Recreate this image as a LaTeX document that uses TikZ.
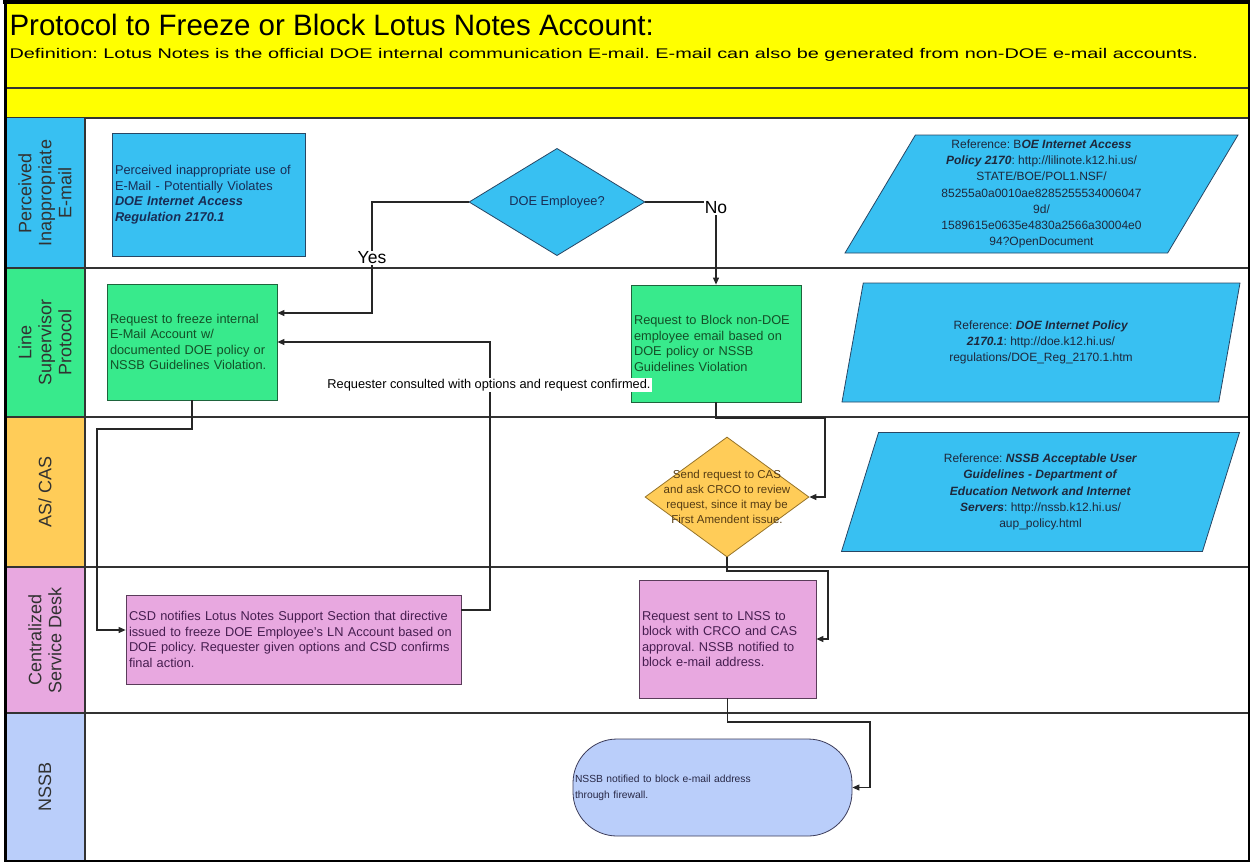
\documentclass[tikz,border=0pt]{standalone}
\usepackage{fontspec}
\setmainfont{Liberation Sans}
\newfontfamily\widesans{Liberation Sans}[FakeStretch=1.42]
\usetikzlibrary{shapes.geometric,arrows.meta}
\definecolor{hdryellow}{RGB}{255,255,0}
\definecolor{laneblue}{RGB}{56,192,242}
\definecolor{lanegreen}{RGB}{56,234,140}
\definecolor{laneorange}{RGB}{255,204,88}
\definecolor{lanepink}{RGB}{232,168,224}
\definecolor{lanesky}{RGB}{186,206,250}
\definecolor{blueline}{RGB}{40,70,100}
\definecolor{bluetext}{RGB}{25,45,85}
\definecolor{greenline}{RGB}{30,100,60}
\definecolor{greentext}{RGB}{20,80,40}
\definecolor{orangeline}{RGB}{150,115,40}
\definecolor{orangetext}{RGB}{85,60,20}
\definecolor{pinkline}{RGB}{90,60,90}
\definecolor{pinktext}{RGB}{70,30,80}
\definecolor{termline}{RGB}{60,60,90}
\definecolor{termtext}{RGB}{40,40,70}
\definecolor{reftext}{RGB}{30,40,60}
\definecolor{lanetext}{RGB}{50,50,50}
\frenchspacing
\begin{document}
\begin{tikzpicture}[x=1pt,y=-1pt]
	 \tikzstyle{lane label}=[rotate=90, align=center, text=lanetext, font=\fontsize{18}{20}\selectfont]
	 \tikzstyle{body}=[font=\fontsize{12.8}{15.6}\selectfont]
	 \tikzstyle{process}=[body, draw, rectangle, line width=0.8pt, align=left, inner sep=3pt]
	 \tikzstyle{decision}=[draw, diamond, line width=0.8pt, inner sep=0pt]
	 \tikzstyle{reference}=[draw=blueline, fill=laneblue, trapezium, trapezium left angle=64, trapezium right angle=116, trapezium stretches body, minimum width=398pt, minimum height=119pt, line width=0.8pt, align=center, inner sep=0pt, text=reftext, font=\fontsize{12}{16.2}\selectfont]
	 \tikzstyle{terminal}=[draw=termline, fill=lanesky, rectangle, rounded corners=44pt, line width=0.8pt, align=left, inner xsep=2pt, text=termtext, font=\fontsize{10.3}{16}\selectfont]
	 \tikzstyle{answer}=[font=\fontsize{17.5}{20}\selectfont, inner sep=1pt]
	 \tikzstyle{tag}=[body, fill=white, inner sep=1pt]
	 \tikzstyle{lane line}=[line width=1.6pt, black!80]
	 \tikzstyle{flow}=[draw, line width=1.1pt, black!85]
	 \tikzstyle{flow arrow}=[flow, -{Triangle[length=7pt,width=6pt]}]
	 \useasboundingbox (0,0) rectangle (1252,863);
	 % header
	 \fill[hdryellow] (5,3) rectangle (1249,118);
	 \node[anchor=west, font=\fontsize{29.5}{32}\selectfont] (title) at (6,25) {Protocol to Freeze or Block Lotus Notes Account:};
	 \node[anchor=west, font=\widesans\fontsize{14}{16}\selectfont] (defn) at (6,55) {Definition: Lotus Notes is the official DOE internal communication E-mail. E-mail can also be generated from non-DOE e-mail accounts.};
	 \draw[lane line] (5,88) -- (1249,88);
	 \draw[lane line] (5,118) -- (1249,118);
	 % lanes
	 \fill[laneblue] (5,118) rectangle (85,268);
	 \fill[lanegreen] (5,268) rectangle (85,417);
	 \fill[laneorange] (5,417) rectangle (85,567);
	 \fill[lanepink] (5,567) rectangle (85,713);
	 \fill[lanesky] (5,713) rectangle (85,861);
	 \foreach \y in {268,417,567,713}
		 \draw[lane line] (5,\y) -- (1249,\y);
	 \draw[lane line] (85,118) -- (85,861);
	 \draw[line width=1.2pt] (5,2) rectangle (1249,861);
	 \draw[line width=4pt] (3,2) -- (1250,2);
	 \draw[line width=3pt] (5,0) -- (5,862);
	 \node[lane label] (l1) at (45,193) {Perceived\\Inappropriate\\E-mail};
	 \node[lane label] (l2) at (45,342.5) {Line\\Supervisor\\Protocol};
	 \node[lane label] (l3) at (45,492) {AS/ CAS};
	 \node[lane label] (l4) at (45,640) {Centralized\\Service Desk};
	 \node[lane label] (l5) at (45,787) {NSSB};
	 % steps
	 \node[process, fill=laneblue, draw=blueline, text=bluetext, minimum width=193pt, minimum height=123pt, text width=187pt] (perceived) at (208.5,194.5) {Perceived inappropriate use of\\E-Mail - Potentially Violates\\\textbf{\textit{DOE Internet Access}}\\\textbf{\textit{Regulation 2170.1}}};
	 \node[decision, body, fill=laneblue, draw=blueline, text=bluetext, minimum width=176pt, minimum height=104pt] (employee) at (557,202) {DOE Employee?};
	 \node[answer, fill=white] (yes) at (372,258) {Yes};
	 \node[answer] (no) at (716,208) {No};
	 \node[process, fill=lanegreen, draw=greenline, text=greentext, minimum width=170pt, minimum height=116pt, text width=164pt] (freeze) at (192,342) {Request to freeze internal\\E-Mail Account w/\\documented DOE policy or\\NSSB Guidelines Violation.};
	 \node[process, fill=lanegreen, draw=greenline, text=greentext, minimum width=170pt, minimum height=117pt, text width=164pt] (block) at (716,343.5) {Request to Block non-DOE\\employee email based on\\DOE policy or NSSB\\Guidelines Violation};
	 \node[decision, fill=laneorange, draw=orangeline, minimum width=164pt, minimum height=120pt] (cas) at (727,497) {};
	 \node[text=orangetext, align=center, font=\fontsize{11.5}{15}\selectfont] (castext) at (cas.center) {Send request to CAS\\and ask CRCO to review\\request, since it may be\\First Amendent issue.};
	 \node[process, fill=lanepink, draw=pinkline, text=pinktext, minimum width=335pt, minimum height=89pt, text width=329pt] (csd) at (293.5,639.5) {CSD notifies Lotus Notes Support Section that directive\\issued to freeze DOE Employee's LN Account based on\\DOE policy. Requester given options and CSD confirms\\final action.};
	 \node[process, fill=lanepink, draw=pinkline, text=pinktext, minimum width=177pt, minimum height=118pt, text width=171pt] (lnss) at (727.5,639) {Request sent to LNSS to\\block with CRCO and CAS\\approval. NSSB notified to\\block e-mail address.};
	 \node[terminal, minimum width=279pt, minimum height=97pt, text width=275pt] (nssb) at (712.5,787.5) {NSSB notified to block e-mail address\\through firewall.};
	 % references
	 \node[reference, trapezium left angle=57, trapezium right angle=123, minimum width=393pt, minimum height=118pt] (refboe) at (1041.5,194) {Reference: B\textbf{\textit{OE Internet Access}}\\\textbf{\textit{Policy 2170}}: http://lilinote.k12.hi.us/\\STATE/BOE/POL1.NSF/\\85255a0a0010ae8285255534006047\\9d/\\1589615e0635e4830a2566a30004e0\\94?OpenDocument};
	 \node[reference] (refdoe) at (1041,342.5) {Reference: \textbf{\textit{DOE Internet Policy}}\\\textbf{\textit{2170.1}}: http://doe.k12.hi.us/\\regulations/DOE\_Reg\_2170.1.htm};
	 \node[reference] (refnssb) at (1040.5,492) {Reference: \textbf{\textit{NSSB Acceptable User}}\\\textbf{\textit{Guidelines - Department of}}\\\textbf{\textit{Education Network and Internet}}\\\textbf{\textit{Servers}}: http://nssb.k12.hi.us/\\aup\_policy.html};
	 % connectors
	 \draw[flow] (employee.west) -| (yes.north);
	 \draw[flow arrow] (yes.south) |- ([yshift=29pt]freeze.east);
	 \draw[flow] (employee.east) -- (employee.east -| no.west);
	 \draw[flow arrow] (no.south) -- (block.north);
	 \draw[flow arrow] (freeze.south) |- (97,429) |- ([yshift=9.5pt]csd.west);
	 \coordinate (back) at (490,342);
	 \draw[flow arrow] ([yshift=29.5pt]csd.east) -| (back) -- (freeze.east);
	 \node[tag] (consult) at (489,385) {Requester consulted with options and request confirmed.};
	 \draw[flow arrow] (block.south) |- (825,418) |- (cas.east);
	 \draw[flow arrow] (cas.south) |- (828,571) |- (lnss.east);
	 \draw[flow arrow] (lnss.south) |- (870,722) |- (nssb.east);
\end{tikzpicture}
\end{document}
